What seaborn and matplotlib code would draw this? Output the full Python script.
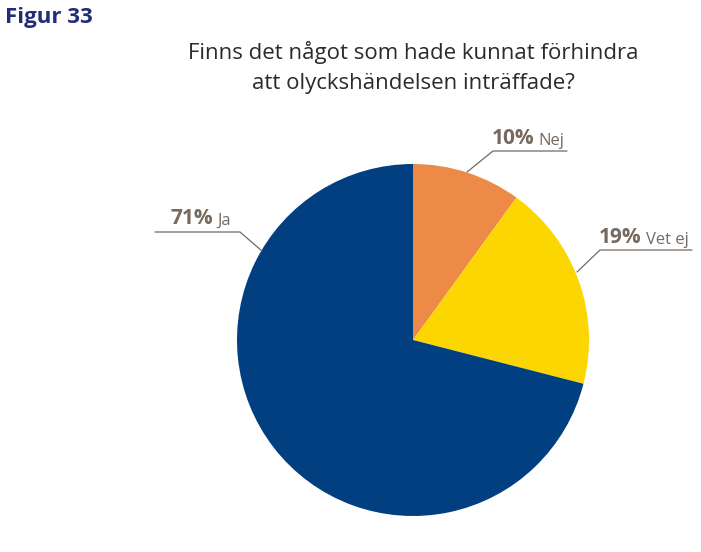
import matplotlib
matplotlib.use("Agg")
import matplotlib.pyplot as plt
import seaborn as sns
import numpy as np

# Data
categories = ["Nej", "Vet ej", "Ja"]
values = [10, 19, 71]
colors = ["#EE8A47", "#FCD600", "#013F80"]
title = "Finns det något som hade kunnat förhindra\natt olyckshändelsen inträffade?"
fig_label = "Figur 33"

sns.set_theme(style="white")
plt.rcParams['font.family'] = ['Open Sans', 'DejaVu Sans']

W, H = 701, 552
fig = plt.figure(figsize=(W / 100, H / 100), dpi=100)

cx, cy, R = 413, 340, 176
ax = fig.add_axes([(cx - R) / W, (H - cy - R) / H, 2 * R / W, 2 * R / H])
ax.pie(values, colors=colors, startangle=90, counterclock=False, radius=1.0,
       wedgeprops=dict(linewidth=0))
ax.set_xlim(-1, 1)
ax.set_ylim(-1, 1)
ax.set_aspect('equal')
ax.axis('off')

def d(px, py):
    return ((px - cx) / R, (cy - py) / R)

text_col = "#76695D"
line_col = "#6E6A66"
# layout: (start, elbow, end, ha)
layout = {
    "Nej": (d(467, 172), d(493, 151), d(567, 151), 'left'),
    "Vet ej": (d(577, 272), d(600, 250), d(692, 250), 'left'),
    "Ja": (d(262, 251), d(240, 232), d(155, 232), 'right'),
}
for cat, val in zip(categories, values):
    s, e, t, ha = layout[cat]
    ax.plot([s[0], e[0], t[0]], [s[1], e[1], t[1]], color=line_col, lw=0.9,
            clip_on=False, solid_joinstyle='miter')
    ty = e[1] + 7 / R
    if ha == 'left':
        tx = e[0] - 1 / R
        p = ax.text(tx, ty, f"{val}%", fontsize=15, fontweight='bold',
                    color=text_col, ha='left', va='baseline')
        ax.annotate(cat, xy=(1, 0), xycoords=p, xytext=(3, 0),
                    textcoords='offset points', fontsize=12, color=text_col,
                    ha='left', va='bottom')
    else:
        tx = e[0] - 9 / R
        n = ax.text(tx, ty, cat, fontsize=12, color=text_col,
                    ha='right', va='baseline')
        ax.annotate(f"{val}%", xy=(0, 0), xycoords=n, xytext=(-3, 0),
                    textcoords='offset points', fontsize=15, fontweight='bold',
                    color=text_col, ha='right', va='bottom')

fig.text(413 / W, 1 - 67.5 / H, title, ha='center', va='center', fontsize=16,
         color="#2B2B2B", linespacing=1.6)
fig.text(5 / W, 1 - 18 / H, fig_label, ha='left', va='center', fontsize=16,
         fontweight='bold', color="#1F2E78")

fig.savefig("out.png", dpi=100)
